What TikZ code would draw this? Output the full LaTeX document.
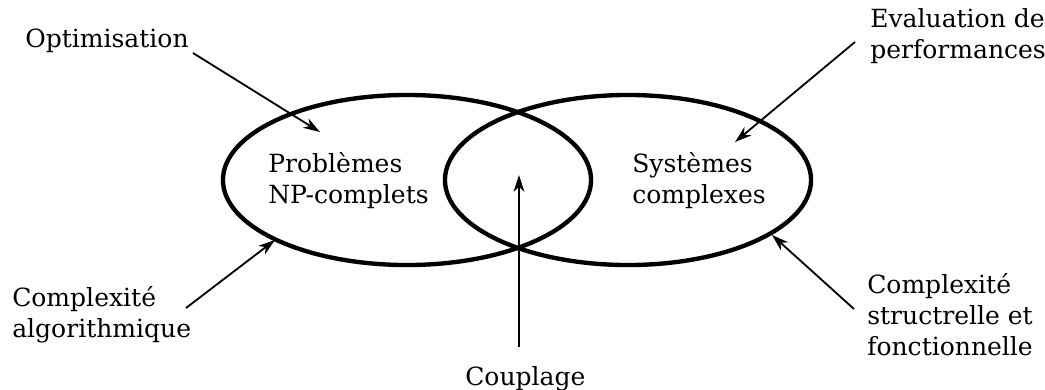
\documentclass[tikz,border=0pt]{standalone}
\usepackage{fontspec}
\setmainfont{DejaVu Serif}
\usetikzlibrary{positioning}
\usetikzlibrary{shapes.geometric, arrows.meta}

\begin{document}
\begin{tikzpicture}[
        x=0.025cm, y=-0.025cm,
        every node/.style={font=\fontsize{17.8pt}{21.7pt}\selectfont, inner sep=0pt},
        field/.style={draw, ellipse, line width=3.1pt, minimum width=9.2cm, minimum height=4.25cm},
        txt/.style={anchor=base west, align=left},
        link/.style={-{Stealth[length=0.42cm, width=0.27cm, inset=0.13cm]}, line width=1.3pt}]

        \useasboundingbox (0,0) rectangle (1045,389);

        \node[field] (NP) at (407,180) {};
        \node[field, minimum width=9.15cm] (SC) at (628,180) {};

        % base = last line
        \node[txt] (NPt) at (268,203) {Problèmes\\NP-complets};
        \node[txt] (SCt) at (632,203) {Systèmes\\complexes};

        \node[txt] (opt) at (25,47) {Optimisation};
        \node[txt] (eval) at (870,58) {Evaluation de\\performances};
        \node[txt] (algo) at (12,337) {Complexité\\algorithmique};
        \node[txt] (struct) at (867,355) {Complexité\\structrelle et\\fonctionnelle};
        \node[txt] (coup) at (465,385) {Couplage};

        \coordinate (opt0) at (193,53);   \coordinate (opt1) at (320,132);
        \coordinate (eval0) at (855,42);  \coordinate (eval1) at (735,142);
        \coordinate (algo0) at (186,308); \coordinate (algo1) at (275,240);
        \coordinate (str0) at (854,309);  \coordinate (str1) at (772,235);
        \coordinate (coup0) at (519,347); \coordinate (coup1) at (519,175);

        \draw[link] (opt0) -- (opt1);
        \draw[link] (eval0) -- (eval1);
        \draw[link] (algo0) -- (algo1);
        \draw[link] (str0) -- (str1);
        \draw[link] (coup0) -- (coup1);

    \end{tikzpicture}
\end{document}
